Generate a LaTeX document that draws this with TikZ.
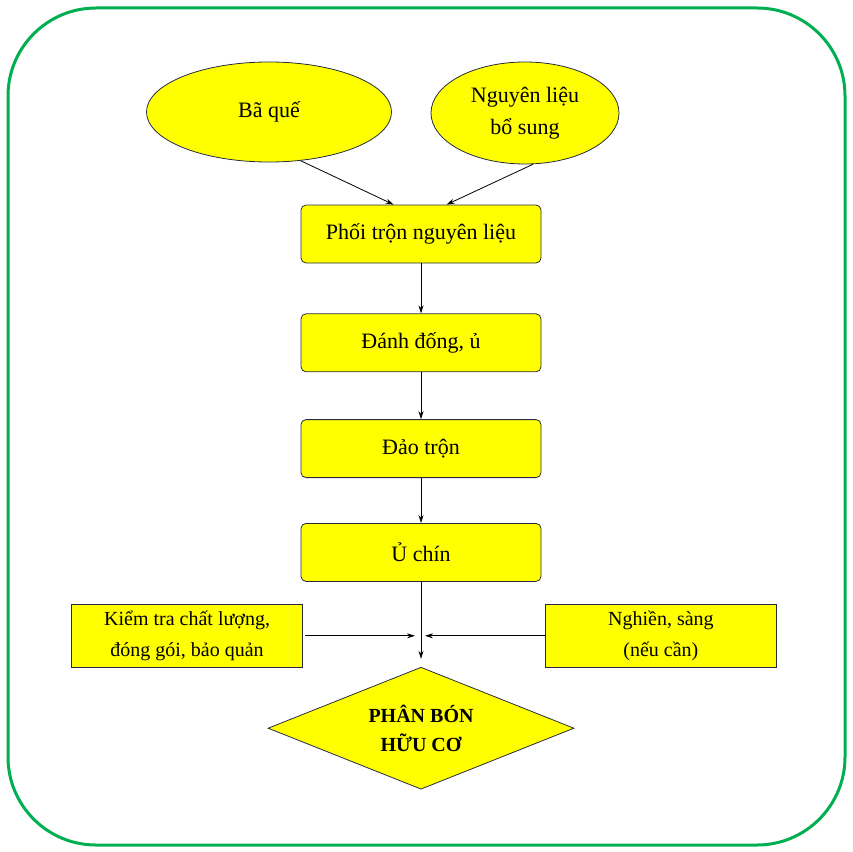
\documentclass[tikz,border=0pt]{standalone}
\usepackage{fontspec}
\setmainfont{Liberation Serif}
\usepackage{tikz}
\usetikzlibrary{positioning}
\usetikzlibrary{shapes}
\usetikzlibrary{arrows.meta}
\definecolor{vang}{RGB}{255,255,0}
\definecolor{vien}{RGB}{40,44,62}
\definecolor{xanh}{RGB}{0,176,80}
\tikzstyle{E} = [ellipse,fill=vang,draw=vien,line width=0.8pt,inner sep=0pt,align=center,font=\fontsize{22}{32}\selectfont]
\tikzstyle{B} = [rectangle,rounded corners=5pt,fill=vang,draw=vien,line width=0.8pt,minimum width=240pt,minimum height=58pt,font=\fontsize{22}{32}\selectfont]
\tikzstyle{S} = [B,rounded corners=0pt,minimum width=231pt,minimum height=63pt,align=center,font=\fontsize{20}{31}\selectfont]
\tikzstyle{D} = [diamond,fill=vang,draw=vien,line width=0.8pt,aspect=2.5,inner sep=0pt,minimum width=306pt,minimum height=122pt,align=center,font=\fontsize{20}{29}\selectfont\bfseries]
\tikzset{>={Stealth[length=8pt,width=5pt]}}

\begin{document}
\begin{tikzpicture}[x=1pt,y=-1pt,line width=0.8pt]
  \useasboundingbox (0,0) rectangle (853,851);
  \draw [xanh,line width=3pt,rounded corners=88pt] (8,8) rectangle (845,845);

  \node [B] (n1) at (421,234) {Phối trộn nguyên liệu};
  \node [E,minimum width=245pt,minimum height=100pt] (n2) at (269,112) {Bã quế};
  \node [E,minimum width=188pt,minimum height=102pt] (n3) at (525,113) {Nguyên liệu\\bổ sung};
  \node [B,below=50pt of n1] (n4) {Đánh đống, ủ};
  \node [B,below=47pt of n4] (n5) {Đảo trộn};
  \node [B,below=45pt of n5] (n6) {Ủ chín};
  \node [D,below=85pt of n6] (n7) {PHÂN BÓN\\HỮU CƠ};
  \coordinate [below=54pt of n6] (j);
  \node [S,left=118pt of j] (n8) {Kiểm tra chất lượng,\\đóng gói, bảo quản};
  \node [S,right=124pt of j] (n9) {Nghiền, sàng\\(nếu cần)};

  \draw [->] (n2.-57) -- (n1.133);
  \draw [->] (n3.-81) -- (n1.49);
  \draw [->] (n1) -- (n4);
  \draw [->] (n4) -- (n5);
  \draw [->] (n5) -- (n6);
  \draw [->,shorten >=8pt] (n6) -- (n7);
  \draw [->,shorten <=2pt,shorten >=6pt] (n8) -- (j);
  \draw [->,shorten >=4pt] (n9) -- (j);

\end{tikzpicture}
\end{document}
